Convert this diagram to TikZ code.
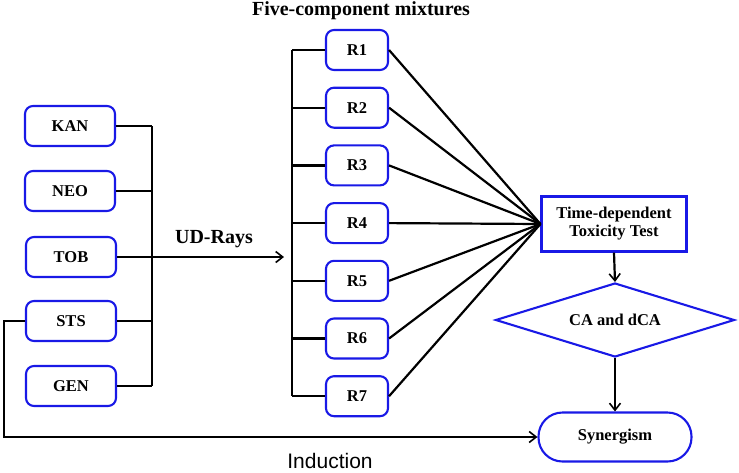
\documentclass[tikz,border=0pt]{standalone}
\usepackage{fontspec}
\setmainfont{Liberation Serif}
\newfontfamily\indfont{Liberation Sans}
\usepackage{tikz}
\usetikzlibrary{positioning,arrows.meta,shapes.geometric}
\definecolor{boxblue}{RGB}{25,25,230}
\tikzset{
  drug/.style={draw=boxblue,line width=2.1pt,rounded corners=8pt,minimum width=90,minimum height=40,inner sep=0pt,font=\fontsize{16.5}{19}\selectfont\bfseries},
  ray/.style={drug,minimum width=62},
  conn/.style={line width=2.2pt,black},
  tip/.style={-{Straight Barb[length=7pt,width=11pt,line width=1.6pt]}},
}

\begin{document}
\begin{tikzpicture}[x=1pt,y=-1pt]
\useasboundingbox (0,0) rectangle (739,472);
% title
\node[font=\fontsize{20}{23}\selectfont\bfseries] (title) at (361,11) {Five-component mixtures};
% single antibiotics
\node[drug] (kan) at (70,126) {KAN};
\node[drug] (neo) at (70,191) {NEO};
\node[drug] (tob) at (71,257) {TOB};
\node[drug] (sts) at (71,321) {STS};
\node[drug] (gen) at (71,386) {GEN};
\coordinate (lbus) at (152,126);
\foreach \n in {kan,neo,tob,sts,gen}
  {\draw[conn] (\n.east) -- (\n.east -| lbus);}
\draw[conn] (lbus |- kan.east) -- (lbus |- gen.east);
% UD-Rays arrow
\coordinate (udend) at (284,257);
\draw[conn,tip] (tob.east) -- (udend);
\node[font=\fontsize{20}{23}\selectfont\bfseries] (udlabel) at (214,239) {UD-Rays};
% mixture rays
\coordinate (rbus) at (292,50);
\node[draw=boxblue,line width=2.1pt,minimum width=145,minimum height=55,inner sep=0pt,align=center,
  font=\fontsize{16.5}{18}\selectfont\bfseries] (test) at (614,224) {Time-dependent\\Toxicity Test};
\foreach \i in {1,...,7}
  {\node[ray] (r\i) at (357,{50+57.7*(\i-1)}) {R\i};
   \draw[conn] (r\i.west) -- (r\i.west -| rbus);
   \draw[conn] (r\i.east) -- (test.west);}
\draw[conn] (rbus |- r1.west) -- (rbus |- r7.west);
% evaluation
\node[diamond,draw=boxblue,line width=2.1pt,minimum width=239,minimum height=74,aspect=3.2,inner sep=0pt,
  font=\fontsize{16.5}{19}\selectfont\bfseries] (ca) at (615,320) {CA and dCA};
\node[draw=boxblue,line width=2.1pt,rounded corners=24pt,minimum width=153,minimum height=49,inner sep=0pt,
  font=\fontsize{16.5}{19}\selectfont\bfseries] (syn) at (615,437) {Synergism};
\draw[conn,tip] (test.south) -- (ca.north);
\draw[conn,tip] (ca.south) -- (syn.north);
% induction path
\coordinate (indc) at (4,437);
\draw[conn,tip] (sts.west) -| (indc) -- (syn.west);
\node[font=\fontsize{21}{25}\selectfont\indfont] (indlabel) at (330,461) {Induction};
\end{tikzpicture}
\end{document}
